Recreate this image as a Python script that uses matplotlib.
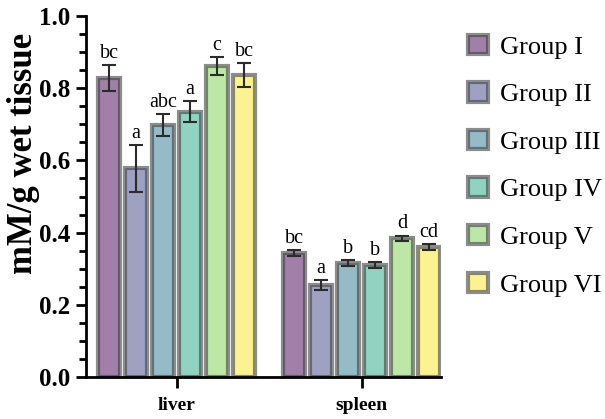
import numpy as np
import matplotlib
matplotlib.use("Agg")
import matplotlib.pyplot as plt
from matplotlib.ticker import MultipleLocator

plt.rcParams["font.family"] = ["Liberation Serif", "DejaVu Serif"]

tissues = ["liver", "spleen"]
groups = ["Group I", "Group II", "Group III", "Group IV", "Group V", "Group VI"]
means = [
    [0.828, 0.578, 0.698, 0.735, 0.862, 0.836],
    [0.343, 0.255, 0.315, 0.310, 0.385, 0.360],
]
errors = [
    [0.036, 0.065, 0.031, 0.030, 0.025, 0.034],
    [0.008, 0.014, 0.008, 0.008, 0.007, 0.009],
]
letters = [
    ["bc", "a", "abc", "a", "c", "bc"],
    ["bc", "a", "b", "b", "d", "cd"],
]
yticks = [0.0, 0.2, 0.4, 0.6, 0.8, 1.0]
yticklabels = ["0.0", "0.2", "0.4", "0.6", "0.8", "1.0"]

colors = plt.cm.viridis(np.linspace(0, 1, len(groups)))

fig = plt.figure(figsize=(6.05, 4.19), dpi=100)
ax = fig.add_axes([0.142, 0.1, 0.587, 0.862])

step = 0.146
width = 0.80 * step
x = np.arange(len(tissues))
handles = []
for i, g in enumerate(groups):
    pos = x + (i - 2.5) * step
    vals = [m[i] for m in means]
    errs = [e[i] for e in errors]
    fill = colors[i].copy()
    fill[3] = 0.5
    b = ax.bar(pos, vals, width, color=fill, edgecolor=(0.25, 0.25, 0.25, 0.6),
               linewidth=3, label=g, zorder=2)
    handles.append(b)
    ax.errorbar(pos, vals, yerr=errs, fmt="none", ecolor="#2b2b2b",
                elinewidth=1.5, capsize=5, capthick=1.5, zorder=3)
    for p, v, e, t in zip(pos, vals, errs, [l[i] for l in letters]):
        ax.text(p, v + e + 0.006, t, ha="center", va="bottom", fontsize=14.5)

ax.set_xlim(-0.49, 1.43)
ax.set_ylim(0, 1.0)
ax.set_xticks(x)
ax.set_xticklabels(tissues, fontsize=14, fontweight="bold")
ax.set_yticks(yticks)
ax.set_yticklabels(yticklabels, fontsize=18, fontweight="bold")
ax.yaxis.set_minor_locator(MultipleLocator(0.05))
ax.set_ylabel("mM/g wet tissue", fontsize=25, fontweight="bold")
ax.yaxis.set_label_coords(-0.13, 0.62)

for s in ["top", "right"]:
    ax.spines[s].set_visible(False)
for s in ["left", "bottom"]:
    ax.spines[s].set_linewidth(2)
ax.tick_params(axis="y", which="major", length=7, width=2, pad=4)
ax.tick_params(axis="y", which="minor", length=5, width=2)
ax.tick_params(axis="x", which="major", length=8, width=2, pad=6)

leg = fig.legend(handles=handles, labels=groups, loc="upper left",
                 bbox_to_anchor=(0.735, 0.974), frameon=False, fontsize=19,
                 handlelength=0.75, handleheight=0.75, labelspacing=0.9,
                 handletextpad=0.45)

fig.savefig("out.png", dpi=100)
